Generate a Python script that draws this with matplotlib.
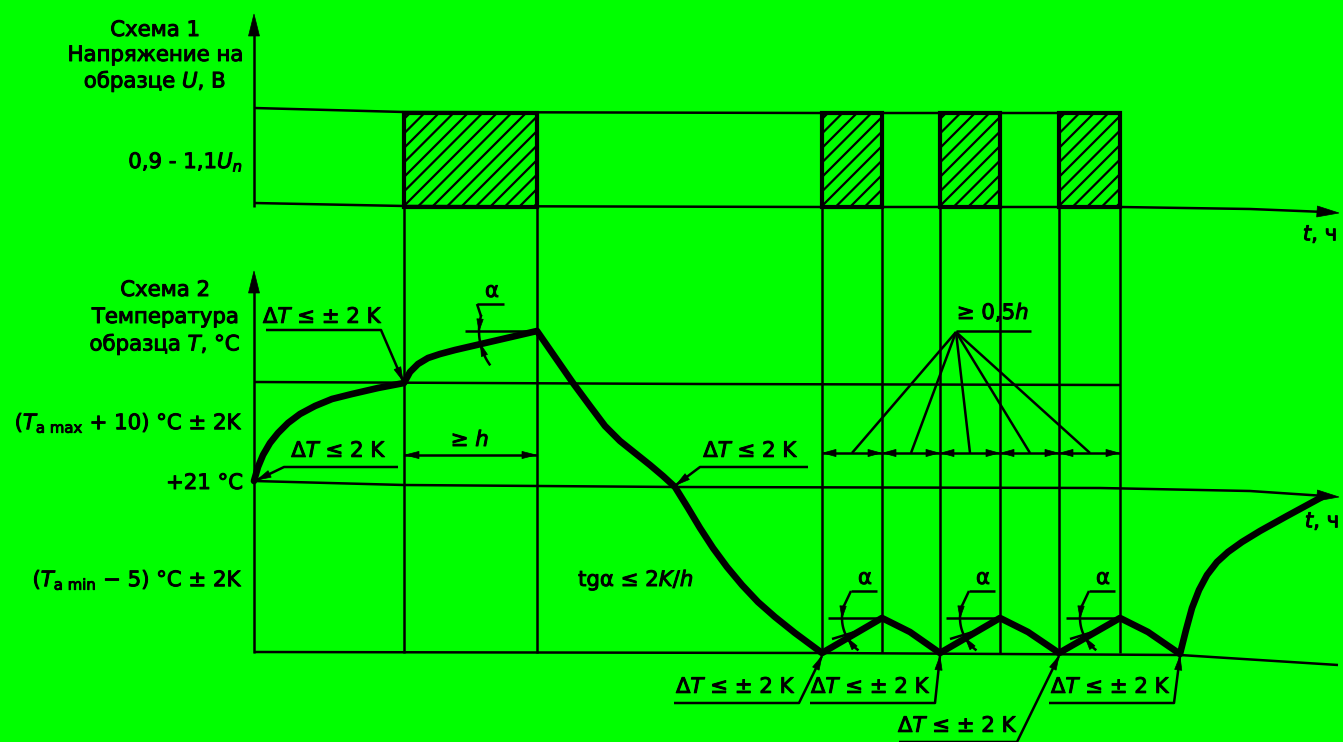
import matplotlib
matplotlib.use('Agg')
import matplotlib.pyplot as plt
import matplotlib.patheffects as pe
import numpy as np
from matplotlib.patches import Polygon, Rectangle

# ---------------- data (schematic drawing units: x = time, y = level) ----------------
pulse_start = [404, 822, 940, 1059]
pulse_end = [537, 882, 1000, 1120]
event_t = [404, 537, 822, 882, 940, 1000, 1059, 1120]

# Scheme 1 levels
U_hi_t = [254, 404, 822, 1120]
U_hi_y = [108, 112, 113, 113]
U_lo_t = [254, 404, 822, 1120, 1250, 1325]
U_lo_y = [203, 206, 207, 207, 209, 212]

# Scheme 2 levels
Tmax_t = [254, 700, 1120]
Tmax_y = [382, 384, 385]
T21_t = [254, 404, 675, 1100, 1250, 1325]
T21_y = [481, 485, 487, 488, 491, 496]
Tmin_t = [254, 822, 1180, 1338]
Tmin_y = [652, 653, 655, 665]

# Temperature profile
curve_t = [254, 258, 263, 270, 278, 288, 300, 315, 332, 352, 378, 404,
           410, 418, 428, 440, 455, 537,
           555, 573, 590, 605, 620, 635, 650, 663, 675,
           688, 700, 713, 727, 742, 758, 775, 795, 822,
           882, 910, 940, 1000, 1028, 1059, 1120, 1148, 1180,
           1186, 1192, 1199, 1207, 1217, 1228, 1242, 1260, 1287, 1322]
curve_T = [481, 467, 455, 443, 433, 423, 414, 406, 399, 394, 388, 383,
           372, 364, 358, 354, 350, 331,
           357, 383, 406, 426, 441, 453, 465, 476, 487,
           508, 528, 548, 567, 585, 602, 617, 633, 653,
           618, 632, 653, 618, 632, 653, 618, 632, 654,
           630, 608, 590, 575, 562, 552, 542, 531, 516, 497]

peaks_t = [882, 1000, 1120]
valleys_t = [822, 940, 1059]
peak_T = 618
fan_targets = [852, 911, 970, 1030, 1090]

GREEN = '#00FF00'
K = 'black'
TH = 1.8   # thin line
BOX = 3.0  # box edge
CUR = 4.8  # thick curve

plt.rcParams['font.family'] = ['DejaVu Sans']
plt.rcParams['mathtext.fontset'] = 'dejavusans'
FS = 15.3
STROKE = [pe.withStroke(linewidth=0.7, foreground=K)]

fig = plt.figure(figsize=(13.43, 7.42), dpi=100)
fig.patch.set_facecolor(GREEN)
ax = fig.add_axes([0, 0, 1, 1])
ax.set_facecolor(GREEN)
ax.set_xlim(0, 1343)
ax.set_ylim(742, 0)
ax.axis('off')


def head(tip, frm, L=14, W=3.6):
    tip = np.array(tip, float)
    frm = np.array(frm, float)
    d = tip - frm
    d /= np.hypot(*d)
    n = np.array([-d[1], d[0]])
    base = tip - d * L
    ax.add_patch(Polygon([tip, base + n * W, base - n * W], closed=True,
                         fc=K, ec=K, lw=0.5, zorder=5))


def line(xs, ys, lw=TH, z=2):
    ax.plot(xs, ys, color=K, lw=lw, solid_capstyle='butt', zorder=z)


def leader(pts, L=14, W=3.6):
    xs = [p[0] for p in pts]
    ys = [p[1] for p in pts]
    line(xs, ys)
    head(pts[-1], pts[-2], L, W)


def txt(x, y, s, ha='center', fs=FS):
    ax.text(x, y, s, ha=ha, va='center', fontsize=fs, color=K, zorder=6,
            path_effects=STROKE)


# ---------------- axes ----------------
line([254, 254], [207, 30])
head((254, 14), (254, 40), L=22, W=5.5)
line([254, 254], [653, 290])
head((254, 271), (254, 300), L=22, W=5.5)

line(U_hi_t, U_hi_y)
line(U_lo_t, U_lo_y)
head((1339, 213), (1310, 211), L=22, W=5.5)

line(Tmax_t, Tmax_y)
line(T21_t, T21_y)
head((1339, 497), (1310, 495), L=22, W=5.5)
line(Tmin_t, Tmin_y)

# vertical event lines
for t in event_t:
    line([t, t], [207, 653])

# hatched voltage pulses
for s, e in zip(pulse_start, pulse_end):
    rect = Rectangle((s, 113), e - s, 94, fill=False, ec=K, lw=BOX, zorder=4)
    ax.add_patch(rect)
    for c in np.arange(s + 113 + 6, e + 207 + 14, 14.5):
        hl, = ax.plot([c - 113, c - 207], [113, 207], color=K, lw=1.6, zorder=3)
        hl.set_clip_path(rect)

# ---------------- temperature curve ----------------
ax.plot(curve_t, curve_T, color=K, lw=CUR, solid_joinstyle='round',
        solid_capstyle='round', zorder=4)

# ---------------- annotations ----------------
# start arrow: dT <= 2 K
txt(339, 451, 'Δ$T$ ≤ 2 K')
leader([(398, 467), (284, 467), (257, 480)])
# dT <= ±2 K top
txt(323, 317, 'Δ$T$ ≤ ± 2 K')
leader([(266, 330), (381, 330), (403, 381)])
# >= h
txt(470, 440, '≥ $h$')
line([404, 537], [455, 455])
head((405, 455), (430, 455))
head((536, 455), (510, 455))
# middle dT <= 2 K
txt(751, 451, 'Δ$T$ ≤ 2 K')
leader([(808, 467), (700, 467), (676, 485)])
# tg alpha
txt(636, 580, 'tgα ≤ 2$K/h$')


def alpha_mark(px, py, sx, sy, r, lab_x, lab_y, ul, th0):
    phi = np.degrees(np.arctan2(sy - py, sx - px))  # slope direction (y down)
    th = np.radians(np.linspace(th0, phi - 22, 40))
    ax.plot(px + r * np.cos(th), py + r * np.sin(th), color=K, lw=TH, zorder=3)
    a = np.radians(180)
    b = np.radians(190)
    head((px + r * np.cos(a), py + r * np.sin(a)),
         (px + r * np.cos(b), py + r * np.sin(b)), L=12, W=3.2)
    a = np.radians(phi)
    b = np.radians(phi - 12)
    head((px + r * np.cos(a), py + r * np.sin(a)),
         (px + r * np.cos(b), py + r * np.sin(b)), L=12, W=3.2)
    line([px - r - 14, px], [py, py])
    t0 = np.radians(th0)
    line([ul[0], px + r * np.cos(t0)], [lab_y + 13, py + r * np.sin(t0)])
    line([ul[0], ul[1]], [lab_y + 13, lab_y + 13])
    txt(lab_x, lab_y, 'α')


alpha_mark(537, 331, 447, 352, 58, 492, 291, (477, 504), 195)
for p, v in zip(peaks_t, valleys_t):
    alpha_mark(p, peak_T, v, 653, 40, p - 17, 578, (p - 31, p - 5), 197)
    line([p - 50, p - 24], [peak_T + 21, peak_T + 13])

# >= 0.5h fan and dimension chain
txt(993, 312, '≥ 0,5$h$')
line([956, 1031], [331, 331])
for xt in fan_targets:
    line([956, xt], [332, 453])
line([822, 1120], [453, 453])
for a, b in zip(event_t[2:-1], event_t[3:]):
    head((a + 1, 453), (a + 20, 453), L=13, W=3.6)
    head((b - 1, 453), (b - 20, 453), L=13, W=3.6)

# bottom dT labels
bot = [(736, 687, 674, 799, 822), (871, 687, 810, 935, 940),
       (958, 726, 899, 1017, 1059), (1111, 687, 1049, 1174, 1180)]
for lx, ly, u0, u1, tv in bot:
    txt(lx, ly, 'Δ$T$ ≤ ± 2 K')
    leader([(u0, ly + 16), (u1, ly + 16), (tv, 656)])

# ---------------- axis labels ----------------
txt(155, 30, 'Схема 1')
txt(155, 55, 'Напряжение на')
txt(155, 81, 'образце $U$, В')
txt(243, 162, '0,9 - 1,1$U_n$', ha='right')
txt(1320, 234, '$t$, ч')
txt(1322, 521, '$t$, ч')
txt(165, 290, 'Схема 2')
txt(165, 317, 'Температура')
txt(165, 344, 'образца $T$, °C')
txt(243, 423, '($T_{\\mathrm{a\\ max}}$ + 10) °C ± 2K', ha='right')
txt(243, 483, '+21 °C', ha='right')
txt(243, 580, '($T_{\\mathrm{a\\ min}}$ − 5) °C ± 2K', ha='right')

fig.savefig('out.png', dpi=100, facecolor=GREEN)
